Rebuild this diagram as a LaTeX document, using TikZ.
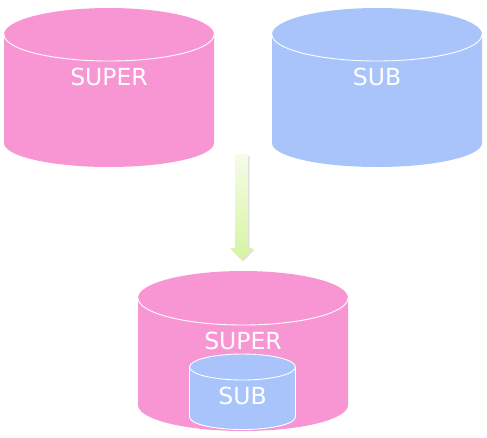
\documentclass[tikz,border=0pt]{standalone}
\usepackage{fontspec}
\setmainfont{DejaVu Sans}
\definecolor{superpink}{RGB}{248,150,212}
\definecolor{subblue}{RGB}{168,196,250}
\definecolor{arrowtop}{RGB}{246,252,232}
\definecolor{arrowbot}{RGB}{214,244,160}
\begin{document}
\begin{tikzpicture}[x=1pt,y=1pt,
  lbl/.style={text=white,font=\fontsize{23.5}{28}\selectfont,inner sep=0pt},
  rim/.style={draw=white,line width=0.9pt}]
\useasboundingbox (0,0) rectangle (487,-437);
% top-left SUPER cylinder
\fill[superpink] (4,-34.5) -- (4,-143) arc[start angle=180,end angle=360,x radius=105,y radius=24] -- (214,-34.5) arc[start angle=0,end angle=180,x radius=105,y radius=26.5] -- cycle;
\draw[rim] (4,-34.5) arc[start angle=180,end angle=360,x radius=105,y radius=26.5];
\node[lbl] (super1) at (109,-77) {SUPER};
% top-right SUB cylinder
\fill[subblue] (272,-34.5) -- (272,-143) arc[start angle=180,end angle=360,x radius=105,y radius=24] -- (482,-34.5) arc[start angle=0,end angle=180,x radius=105,y radius=26.5] -- cycle;
\draw[rim] (272,-34.5) arc[start angle=180,end angle=360,x radius=105,y radius=26.5];
\node[lbl] (sub1) at (377,-77) {SUB};
% arrow
\fill[black!25,opacity=0.5] (236.5,-155.5) -- (249.5,-155.5) -- (249.5,-249.5) -- (254.5,-249.5) -- (243,-261.5) -- (231.5,-249.5) -- (236.5,-249.5) -- cycle;
\shade[top color=arrowtop,bottom color=arrowbot] (235,-154) -- (248,-154) -- (248,-248) -- (253,-248) -- (241.5,-260) -- (230,-248) -- (235,-248) -- cycle;
% bottom SUPER cylinder
\fill[superpink] (138,-298) -- (138,-405) arc[start angle=180,end angle=360,x radius=105,y radius=26] -- (348,-298) arc[start angle=0,end angle=180,x radius=105,y radius=27] -- cycle;
\draw[rim] (138,-298) arc[start angle=180,end angle=360,x radius=105,y radius=27];
\node[lbl] (super2) at (243,-341) {SUPER};
% inner SUB cylinder
\filldraw[fill=subblue,rim] (189.5,-367) -- (189.5,-417) arc[start angle=180,end angle=360,x radius=53,y radius=12.5] -- (295.5,-367) arc[start angle=0,end angle=180,x radius=53,y radius=13] -- cycle;
\draw[rim] (189.5,-367) arc[start angle=180,end angle=360,x radius=53,y radius=13];
\node[lbl] (sub2) at (242.5,-396) {SUB};
\end{tikzpicture}
\end{document}
